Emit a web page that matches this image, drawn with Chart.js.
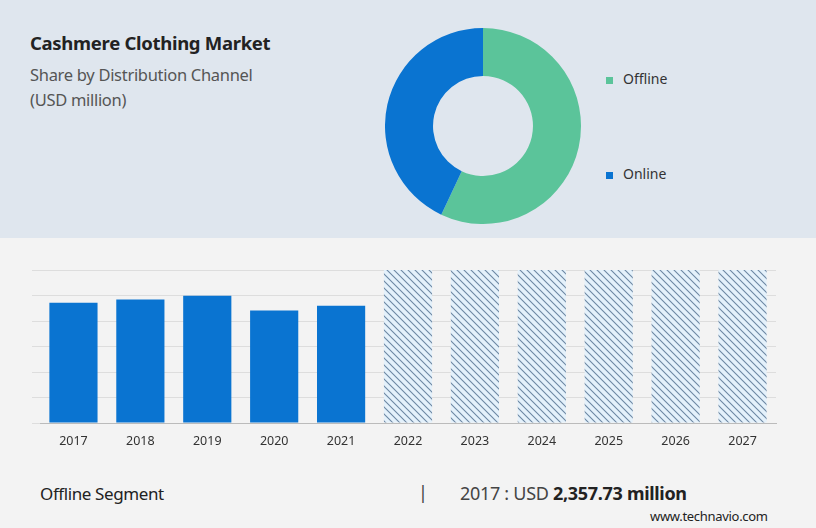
<!DOCTYPE html>
<html><head><meta charset="utf-8">
<script src="https://cdn.jsdelivr.net/npm/chart.js@4"></script>
<style>
body{margin:0;width:816px;height:528px;position:relative;font-family:"Noto Sans",sans-serif;background:#f3f3f3;overflow:hidden}
#top{position:absolute;left:0;top:0;width:816px;height:238px;background:#dfe6ee}
.t{position:absolute;color:#333;white-space:nowrap}
#pie{position:absolute;left:385px;top:28px}
#bar{position:absolute;left:22px;top:262px}
.lg{position:absolute;font-size:14px;color:#333}
.lg i{display:inline-block;width:7px;height:7px;margin-right:10px;vertical-align:middle}
</style></head><body>
<div id="top"></div>
<div class="t" style="left:30px;top:30px;font-size:18.5px;font-weight:bold;color:#222;letter-spacing:-0.3px">Cashmere Clothing Market</div>
<div class="t" style="left:30px;top:62px;font-size:16.5px;color:#555;line-height:25px;letter-spacing:-0.3px">Share by Distribution Channel<br>(USD million)</div>
<canvas id="pie" width="196" height="196"></canvas>
<div class="lg" style="left:606px;top:69px"><i style="background:#5bc49a"></i>Offline</div>
<div class="lg" style="left:606px;top:164px"><i style="background:#0a74d1"></i>Online</div>
<canvas id="bar" width="766" height="190"></canvas>
<div class="t" style="left:40px;top:482px;font-size:17px;color:#222;letter-spacing:-0.4px">Offline Segment</div>
<div class="t" style="left:418px;top:480px;font-size:18px;color:#444">|</div>
<div class="t" style="left:460px;top:481px;font-size:18px;color:#444;letter-spacing:-0.3px">2017 : USD <b style="color:#222">2,357.73 million</b></div>
<div class="t" style="left:650px;top:507px;font-size:13px;color:#222;letter-spacing:-0.3px">www.technavio.com</div>
<script>
const channels = ['Offline', 'Online'];
const shares = [57, 43];
const years = ['2017','2018','2019','2020','2021','2022','2023','2024','2025','2026','2027'];
const history = [2357.73, 2420, 2495, 2205, 2300, null, null, null, null, null, null];
const forecast = [null, null, null, null, null, 3000, 3000, 3000, 3000, 3000, 3000];

function hatch() {
  const c = document.createElement('canvas');
  c.width = 7; c.height = 7;
  const g = c.getContext('2d');
  g.fillStyle = '#e4f1fb'; g.fillRect(0, 0, 7, 7);
  g.strokeStyle = '#6d87a3'; g.lineWidth = 1.1;
  g.beginPath();
  g.moveTo(0, 0); g.lineTo(7, 7);
  g.moveTo(-3.5, 3.5); g.lineTo(3.5, 10.5);
  g.moveTo(3.5, -3.5); g.lineTo(10.5, 3.5);
  g.stroke();
  return g.createPattern(c, 'repeat');
}

new Chart(document.getElementById('pie'), {
  type: 'doughnut',
  data: { labels: channels, datasets: [{ data: shares, backgroundColor: ['#5bc49a', '#0a74d1'], borderWidth: 0 }] },
  options: { responsive: false, cutout: '51%', animation: false,
    plugins: { legend: { display: false }, tooltip: { enabled: false } } }
});

new Chart(document.getElementById('bar'), {
  type: 'bar',
  data: { labels: years, datasets: [
    { data: history, backgroundColor: '#0a74d1', barPercentage: 0.72, categoryPercentage: 1 },
    { data: forecast, backgroundColor: hatch(), barPercentage: 0.72, categoryPercentage: 1 }
  ] },
  options: { responsive: false, animation: false,
    layout: { padding: { top: 8, left: 10, right: 12 } },
    plugins: { legend: { display: false }, tooltip: { enabled: false } },
    scales: {
      x: { stacked: true, grid: { display: false }, border: { color: '#bbb' },
        ticks: { color: '#333', font: { size: 12.5, family: 'Noto Sans' } } },
      y: { stacked: true, min: 0, max: 3000, grid: { color: '#ddd' }, border: { display: false },
        ticks: { display: false, stepSize: 500 } }
    }
  }
});
</script>
</body></html>
